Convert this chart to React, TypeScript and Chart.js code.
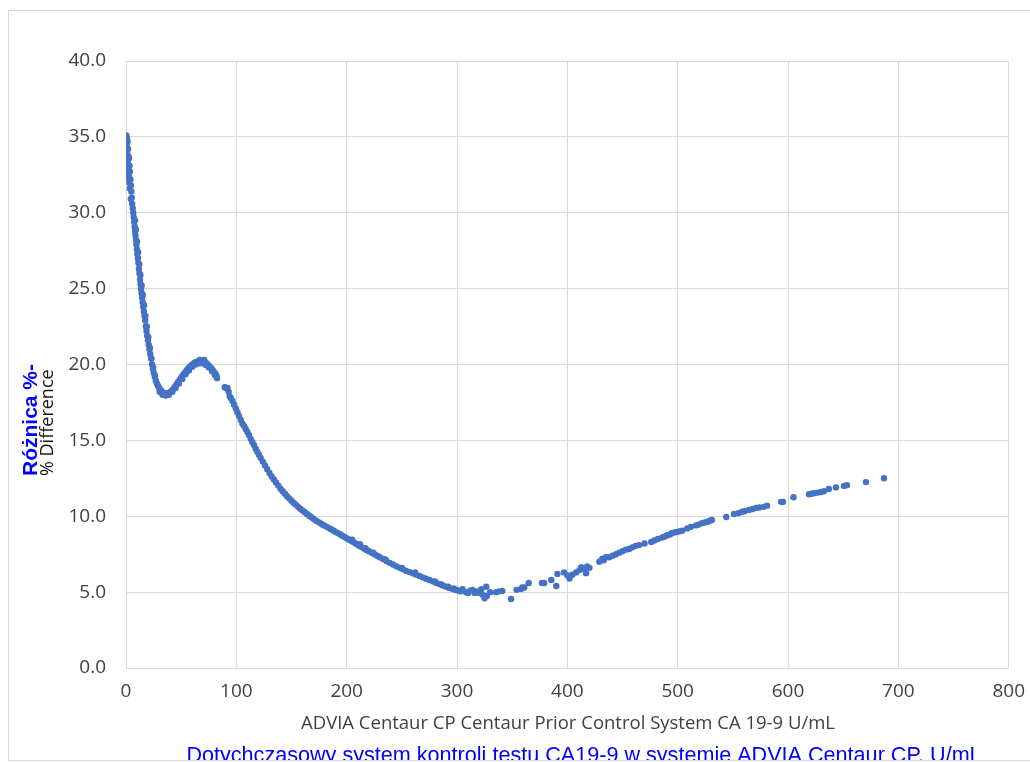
import React, { useEffect, useRef } from "react";
import { Chart, registerables } from "chart.js";

Chart.register(...registerables);

// Low-concentration cluster (0–7 U/mL)
const lowX = [0.3, 0.9, 1.4, 0.6, 1.9, 1.1, 2.3, 0.8, 1.7, 2.8, 3.2, 2.1, 1.3, 2.6, 3.6, 4.0, 3.0, 1.8, 4.4, 3.5, 4.9, 5.2, 4.4, 5.6, 6.1];
const lowY = [35.1, 34.9, 34.7, 34.4, 34.2, 33.9, 33.7, 33.5, 33.3, 33.6, 33.1, 32.9, 32.6, 32.4, 32.7, 32.2, 32.0, 32.3, 31.8, 31.6, 31.4, 31.0, 30.9, 30.6, 30.3];

// Steep fall (7–38 U/mL)
const fallX = [6.6, 7.0, 7.4, 7.8, 8.2, 8.6, 9.0, 9.4, 9.9, 10.3, 10.8, 11.2, 11.7, 12.2, 12.7, 13.2, 13.6, 14.1, 14.6, 15.1, 15.6, 16.2, 16.8, 17.4, 18.0, 18.6, 19.2, 19.9, 20.6, 21.3, 22.0, 22.8, 23.6, 24.4, 25.2, 26.1, 27.0, 28.0, 29.0, 30.0, 31.0, 32.0, 33.2, 34.4, 35.6, 36.8,
  8.2, 9.0, 10.0, 11.0, 12.1, 13.1, 14.2, 15.2, 16.4, 17.6, 18.9, 20.2, 21.6, 23.0, 24.6, 26.2];
const fallY = [30.0, 29.7, 29.4, 29.1, 28.8, 28.5, 28.2, 27.9, 27.6, 27.3, 27.0, 26.7, 26.3, 26.0, 25.6, 25.3, 25.0, 24.7, 24.4, 24.1, 23.8, 23.5, 23.2, 22.9, 22.5, 22.2, 21.9, 21.6, 21.3, 21.0, 20.7, 20.4, 20.0, 19.7, 19.45, 19.2, 18.95, 18.75, 18.6, 18.45, 18.35, 18.25, 18.17, 18.12, 18.1, 18.08,
  29.5, 28.9, 28.1, 27.4, 26.6, 25.9, 25.2, 24.6, 23.9, 23.2, 22.5, 21.8, 21.1, 20.4, 19.8, 19.3];

// Local hump (38–83 U/mL)
const humpX = [38.0, 39.2, 40.4, 41.6, 42.8, 44.0, 45.2, 46.4, 47.6, 48.8, 50.0, 51.2, 52.4, 53.6, 54.8, 56.0, 57.2, 58.4, 59.6, 60.8, 62.0, 63.2, 64.4, 65.6, 66.8, 68.0, 69.2, 70.4, 71.6, 72.8, 74.0, 75.2, 76.4, 77.6, 78.8, 80.0, 81.2, 82.0,
  30.5, 33.0, 36.0, 39.0, 42.0, 45.0, 48.0, 51.0, 54.0, 57.0, 60.0, 63.0, 66.0, 69.0, 72.0, 75.0, 78.0, 80.5, 82.5, 67.0, 71.0];
const humpY = [18.1, 18.13, 18.2, 18.28, 18.38, 18.5, 18.62, 18.75, 18.88, 19.0, 19.13, 19.25, 19.37, 19.48, 19.59, 19.7, 19.8, 19.89, 19.97, 20.04, 20.1, 20.15, 20.18, 20.2, 20.21, 20.21, 20.2, 20.18, 20.14, 20.08, 20.0, 19.92, 19.83, 19.72, 19.6, 19.5, 19.38, 19.25,
  18.2, 18.0, 17.95, 18.0, 18.2, 18.45, 18.75, 19.05, 19.35, 19.6, 19.85, 20.0, 20.08, 20.08, 19.98, 19.8, 19.55, 19.3, 19.1, 20.3, 20.3];

// Long decline (89–302 U/mL)
const declineX = [89.6, 90.5, 92, 93, 94, 95, 96.5, 98, 99.5, 101, 102.5, 104, 105.5, 107, 108.5, 110, 111.5, 113, 114.5, 116, 117.5, 119, 120.5, 122, 124, 126, 128, 130, 132, 134, 136, 138, 140, 142, 144, 146, 148, 150, 152, 154, 156, 158, 160, 162, 164, 166, 168, 170, 172, 174, 176, 178, 180, 182, 184, 186, 188, 190, 192, 194, 196, 198, 200, 202, 204, 206, 208, 210, 212, 214, 216, 218, 220, 222, 224, 226, 228, 230, 233, 236, 239, 242, 245, 248, 251, 254, 257, 260, 263, 266, 269, 272, 275, 278, 281, 284, 287, 290, 293, 296, 299, 302,
  205, 212, 217, 224, 235, 250, 262, 280, 286, 292, 297];
const declineY = [18.5, 18.45, 18.45, 18.2, 17.9, 17.8, 17.6, 17.35, 17.1, 16.85, 16.6, 16.35, 16.1, 15.95, 15.75, 15.55, 15.35, 15.1, 14.9, 14.7, 14.45, 14.25, 14.05, 13.85, 13.6, 13.35, 13.1, 12.85, 12.62, 12.42, 12.22, 12.02, 11.82, 11.65, 11.48, 11.32, 11.18, 11.02, 10.88, 10.75, 10.62, 10.5, 10.38, 10.26, 10.15, 10.04, 9.93, 9.83, 9.72, 9.63, 9.55, 9.46, 9.38, 9.3, 9.22, 9.14, 9.06, 8.97, 8.89, 8.81, 8.72, 8.63, 8.55, 8.47, 8.38, 8.3, 8.21, 8.12, 8.03, 7.95, 7.86, 7.78, 7.7, 7.62, 7.54, 7.46, 7.38, 7.3, 7.18, 7.05, 6.93, 6.82, 6.7, 6.6, 6.5, 6.4, 6.32, 6.24, 6.15, 6.06, 5.97, 5.88, 5.8, 5.71, 5.62, 5.53, 5.44, 5.36, 5.28, 5.2, 5.14, 5.08,
  8.45, 8.15, 7.9, 7.6, 7.15, 6.6, 6.3, 5.7, 5.5, 5.35, 5.25];

// Minimum region (299–420 U/mL)
const troughX = [299.5, 303, 305, 308, 310, 312, 314, 316, 318, 320, 322, 323, 325, 326.5, 327, 330, 335.5, 338, 341, 349, 354, 358, 361, 365, 359, 377, 379, 385.5, 390, 391, 397, 400, 402, 404.5, 408, 411, 412.6, 415, 417, 418, 420];
const troughY = [5.15, 5.05, 5.2, 5.0, 4.95, 5.1, 5.15, 4.95, 5.05, 4.95, 5.2, 4.85, 4.6, 5.35, 4.75, 5.0, 5.0, 5.05, 5.07, 4.55, 5.15, 5.2, 5.3, 5.6, 5.3, 5.6, 5.6, 5.8, 5.4, 6.2, 6.3, 6.1, 5.9, 6.15, 6.3, 6.45, 6.65, 6.5, 6.25, 6.7, 6.6];

// Upper range rise (429–687 U/mL)
const riseX = [429, 431.7, 433, 435, 438, 441, 444, 447, 450, 453, 456, 459, 462, 465, 470, 476, 478.7, 482, 486, 488, 490.5, 493, 495, 498, 501, 504, 508.6, 512, 516.7, 519, 522, 524, 526.7, 529, 531, 544, 551, 555, 558.4, 561, 564.7, 568, 571, 574, 578, 581, 593.7, 595.5, 605, 619, 621, 623.5, 627, 630, 632.6, 637, 643.4, 650.7, 653.4, 670.6, 687];
const riseY = [7.0, 7.2, 7.1, 7.3, 7.3, 7.4, 7.5, 7.6, 7.7, 7.8, 7.85, 7.95, 8.05, 8.1, 8.2, 8.3, 8.4, 8.5, 8.6, 8.65, 8.75, 8.8, 8.9, 8.95, 9.0, 9.05, 9.2, 9.3, 9.4, 9.45, 9.55, 9.58, 9.62, 9.7, 9.75, 9.95, 10.15, 10.2, 10.3, 10.35, 10.42, 10.48, 10.55, 10.58, 10.62, 10.7, 10.95, 10.95, 11.25, 11.45, 11.48, 11.52, 11.56, 11.6, 11.65, 11.8, 11.9, 12.0, 12.05, 12.25, 12.5];

const yTickValues = [0, 5, 10, 15, 20, 25, 30, 35, 40];
const xTickValues = [0, 100, 200, 300, 400, 500, 600, 700, 800];

const yTitleMain = "Różnica %-";
const yTitleSub = "% Difference";
const xTitle = "ADVIA Centaur CP Centaur Prior Control System CA 19-9 U/mL";
const xSubtitle = "Dotychczasowy system kontroli testu CA19-9 w systemie ADVIA Centaur CP, U/mL";

const GRID = "#d9d9d9";
const TICK = "#404040";
const POINT = "#4472c4";

function toPoints(xs: number[], ys: number[]) {
  return xs.map((x, i) => ({ x, y: ys[i] }));
}

const titlesPlugin = {
  id: "axisTitles",
  afterDraw(chart: any) {
    const ctx = chart.ctx as CanvasRenderingContext2D;
    ctx.save();
    // Rotated y-axis titles
    ctx.save();
    ctx.translate(28, 465);
    ctx.rotate(-Math.PI / 2);
    ctx.textAlign = "left";
    ctx.textBaseline = "alphabetic";
    ctx.fillStyle = "#0000ff";
    ctx.font = "bold 21px 'Liberation Sans', Arial, sans-serif";
    ctx.fillText(yTitleMain, 0, 0);
    ctx.fillStyle = "#1a1a1a";
    ctx.font = "18px 'Open Sans', sans-serif";
    ctx.fillText(yTitleSub, 0, 16);
    ctx.restore();

    // x-axis titles
    ctx.textAlign = "center";
    ctx.textBaseline = "middle";
    ctx.fillStyle = "#404040";
    ctx.font = "18.5px 'Open Sans', sans-serif";
    ctx.fillText(xTitle, 559, 713);
    ctx.textBaseline = "alphabetic";
    ctx.fillStyle = "#0000ff";
    ctx.font = "21.6px 'Liberation Sans', Arial, sans-serif";
    ctx.fillText(xSubtitle, 575, 751);
    ctx.restore();
  },
};

export default function App() {
  const canvasRef = useRef<HTMLCanvasElement | null>(null);

  useEffect(() => {
    const canvas = canvasRef.current;
    if (!canvas) return;
    const data = [
      ...toPoints(lowX, lowY),
      ...toPoints(fallX, fallY),
      ...toPoints(humpX, humpY),
      ...toPoints(declineX, declineY),
      ...toPoints(troughX, troughY),
      ...toPoints(riseX, riseY),
    ];
    const chart = new Chart(canvas, {
      type: "scatter",
      data: {
        datasets: [
          {
            data,
            backgroundColor: POINT,
            borderColor: POINT,
            borderWidth: 0,
            pointRadius: 3.2,
          },
        ],
      },
      options: {
        animation: false,
        responsive: false,
        maintainAspectRatio: false,
        layout: { padding: { left: 0, right: 27, top: 50, bottom: 0 } },
        plugins: { legend: { display: false }, tooltip: { enabled: false }, title: { display: false } },
        scales: {
          x: {
            type: "linear",
            min: 0,
            max: 800,
            afterBuildTicks: (scale: any) => {
              scale.ticks = xTickValues.map((v) => ({ value: v }));
            },
            afterFit: (scale: any) => {
              scale.height = 92;
            },
            grid: { color: GRID, lineWidth: 1, drawTicks: false },
            border: { color: GRID },
            ticks: {
              color: TICK,
              padding: 12,
              font: { family: "'Open Sans', sans-serif", size: 19 },
              callback: (v: any) => String(v),
            },
          },
          y: {
            type: "linear",
            min: 0,
            max: 40,
            afterBuildTicks: (scale: any) => {
              scale.ticks = yTickValues.map((v) => ({ value: v }));
            },
            afterFit: (scale: any) => {
              scale.width = 117;
            },
            grid: { color: GRID, lineWidth: 1, drawTicks: false },
            border: { color: GRID },
            ticks: {
              color: TICK,
              padding: 20,
              font: { family: "'Open Sans', sans-serif", size: 19 },
              callback: (v: any) => Number(v).toFixed(1),
            },
          },
        },
      },
      plugins: [titlesPlugin],
    });
    return () => chart.destroy();
  }, []);

  return (
    <div
      style={{
        position: "fixed",
        left: 8,
        top: 10,
        width: 1030,
        height: 751,
        boxSizing: "border-box",
        border: "1px solid #d9d9d9",
        overflow: "hidden",
        background: "#fff",
      }}
    >
      <canvas ref={canvasRef} width={1028} height={749} style={{ display: "block" }} />
    </div>
  );
}
